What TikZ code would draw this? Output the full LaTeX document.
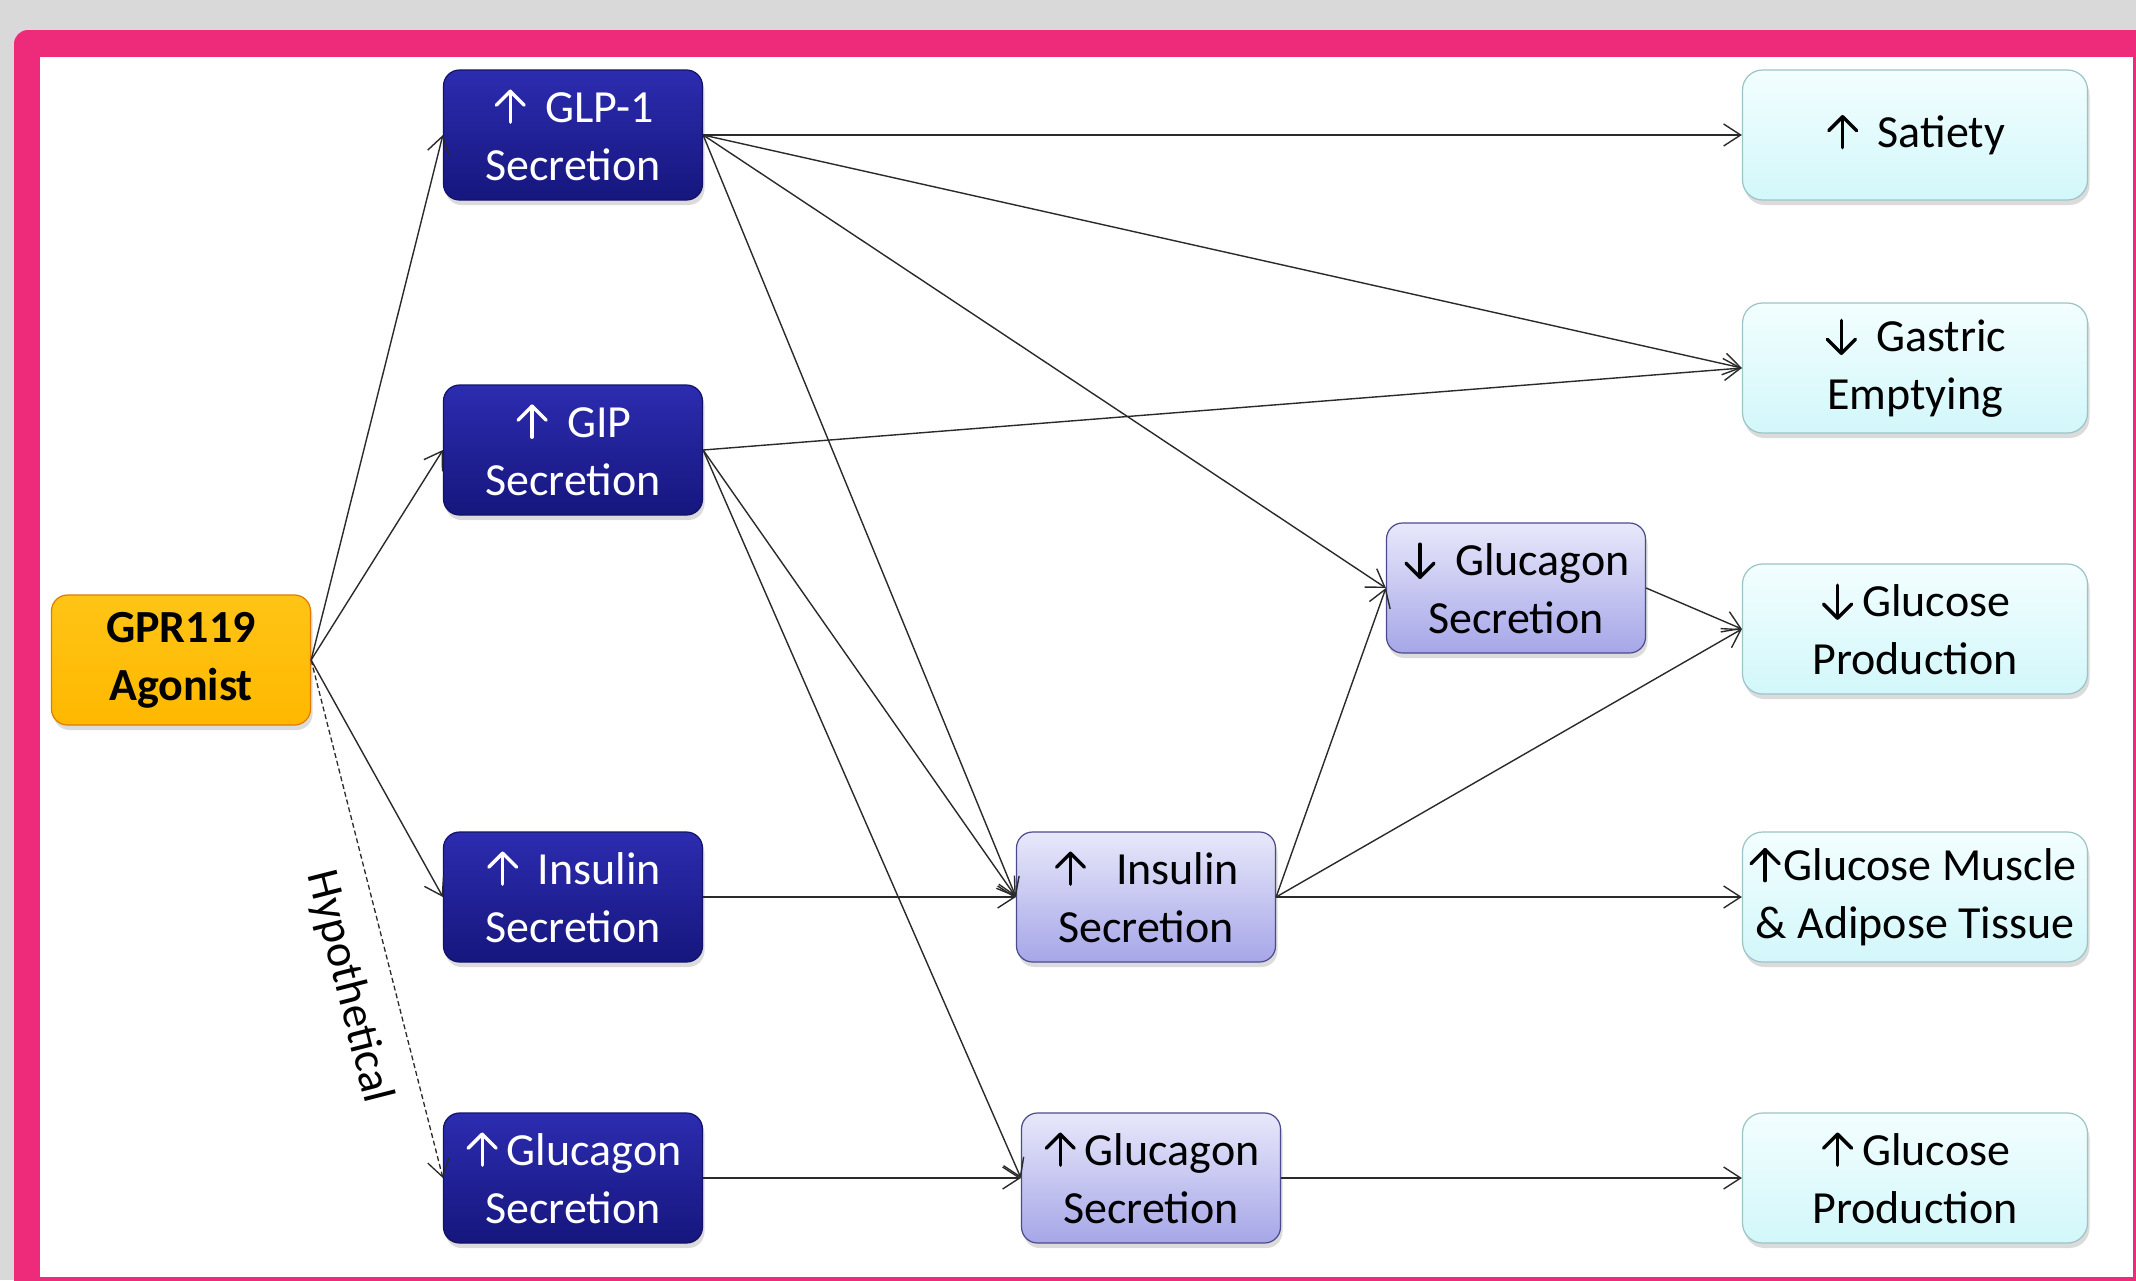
\documentclass[tikz,border=0pt]{standalone}
\usepackage{fontspec}
\setmainfont{Carlito}
\usetikzlibrary{arrows.meta,shadows}
\definecolor{bggray}{HTML}{D9D9D9}
\definecolor{pinkf}{HTML}{EE2A7B}
\definecolor{dktop}{HTML}{2C2CB0}
\definecolor{dkbot}{HTML}{16167E}
\definecolor{dkdraw}{HTML}{12126A}
\definecolor{lptop}{HTML}{E8E8FB}
\definecolor{lpbot}{HTML}{A6A6E8}
\definecolor{lpdraw}{HTML}{4A4A8C}
\definecolor{cytop}{HTML}{F3FEFF}
\definecolor{cybot}{HTML}{D2F7FA}
\definecolor{cydraw}{HTML}{9CC4C6}
\definecolor{ortop}{HTML}{FFC416}
\definecolor{orbot}{HTML}{FFB800}
\definecolor{ordraw}{HTML}{E07B00}
\definecolor{edgec}{HTML}{2A2A2A}
\tikzset{arrglyph/.style={x=1pt, y=1pt, baseline=0pt, line width=3.4pt, line cap=round, line join=round, sharp corners, solid}}
\newcommand\uparr{\hspace{2pt}\tikz[arrglyph]{\draw (0,0)--(0,31); \draw (-14,17)--(0,31)--(14,17);}\hspace{9pt}}
\newcommand\dnarr{\hspace{2pt}\tikz[arrglyph]{\draw (0,-2)--(0,31); \draw (-14,12)--(0,-2)--(14,12);}\hspace{9pt}}
\tikzset{
  box/.style={minimum width=259pt, minimum height=130pt, align=center, inner sep=0pt,
    rounded corners=16pt, line width=1.2pt, font=\fontsize{46}{58}\selectfont,
    drop shadow={opacity=0.28, shadow xshift=2pt, shadow yshift=-5pt}},
  darkbox/.style={box, top color=dktop, bottom color=dkbot, draw=dkdraw, text=white},
  lightbox/.style={box, top color=lptop, bottom color=lpbot, draw=lpdraw, text=black},
  cyanbox/.style={box, minimum width=345pt, rounded corners=20pt, top color=cytop, bottom color=cybot, draw=cydraw, text=black},
  orangebox/.style={box, top color=ortop, bottom color=orbot, draw=ordraw, text=black, font=\fontsize{46}{58}\selectfont\bfseries},
  link/.style={draw=edgec, line width=1.4pt, -{Straight Barb[length=17pt,width=22pt]}},
}
\begin{document}
\begin{tikzpicture}[x=1pt,y=-1pt]
\useasboundingbox (0,0) rectangle (2136,1280);
\clip (0,0) rectangle (2136,1280);
\fill[bggray] (0,0) rectangle (2136,1280);
\fill[pinkf, rounded corners=14pt] (14,30) rectangle (2200,1340);
\fill[white] (40,57) rectangle (2133,1277);

% nodes
\node[orangebox] (gpr) at (181,660) {GPR119\\Agonist};
\node[darkbox] (glp) at (573,135) {\uparr{} GLP-1\\Secretion};
\node[darkbox] (gip) at (573,450) {\uparr{} GIP\\Secretion};
\node[darkbox] (ins1) at (573,897) {\uparr{} Insulin\\Secretion};
\node[darkbox] (glc1) at (573,1178) {\uparr{}Glucagon\\Secretion};
\node[lightbox] (ins2) at (1146,897) {\uparr{}\ \ Insulin\\Secretion};
\node[lightbox] (glc2) at (1151,1178) {\uparr{}Glucagon\\Secretion};
\node[lightbox] (glc3) at (1516,588) {\dnarr{} Glucagon\\Secretion};
\node[cyanbox] (sat) at (1915,135) {\uparr{} Satiety};
\node[cyanbox] (gas) at (1915,368) {\dnarr{} Gastric\\Emptying};
\node[cyanbox] (gp1) at (1915,629) {\dnarr{}Glucose\\Production};
\node[cyanbox] (gmu) at (1915,897) {\hspace*{-6pt}\uparr{}\hspace{-6pt}Glucose Muscle\\\& Adipose Tissue};
\node[cyanbox] (gp2) at (1915,1178) {\uparr{}Glucose\\Production};

% connectors
\draw[link] (gpr.east) -- (glp.west);
\draw[link] (gpr.east) -- (gip.west);
\draw[link] (gpr.east) -- (ins1.west);
\draw[link, line width=1.3pt, dash pattern=on 5pt off 3pt] (gpr.east) -- node[sloped, below, pos=0.61, inner ysep=24pt, text=black, font=\fontsize{46}{58}\selectfont] (hyp) {Hypothetical} (glc1.west);
\draw[link] (glp.east) -- (sat.west);
\draw[link] (glp.east) -- (gas.west);
\draw[link] (glp.east) -- (glc3.west);
\draw[link] (glp.east) -- (ins2.west);
\draw[link] (gip.east) -- (gas.west);
\draw[link] (gip.east) -- (ins2.west);
\draw[link] (gip.east) -- (glc2.west);
\draw[link] (ins1.east) -- (ins2.west);
\draw[link] (glc1.east) -- (glc2.west);
\draw[link] (ins2.east) -- (glc3.west);
\draw[link] (ins2.east) -- (gp1.west);
\draw[link] (ins2.east) -- (gmu.west);
\draw[link] (glc3.east) -- (gp1.west);
\draw[link] (glc2.east) -- (gp2.west);
\end{tikzpicture}
\end{document}
